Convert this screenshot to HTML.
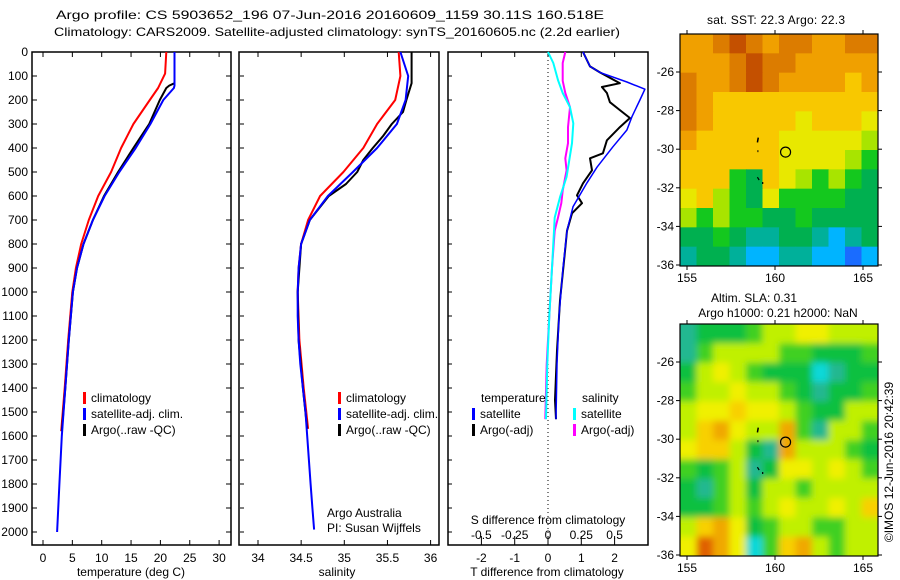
<!DOCTYPE html>
<html><head><meta charset="utf-8">
<style>
html,body{margin:0;padding:0;background:#fff;}
svg{display:block;font-family:"Liberation Sans",sans-serif;}
text{font-size:12px;fill:#000;}
</style></head>
<body>
<svg id="c" width="900" height="580" viewBox="0 0 900 580" xmlns="http://www.w3.org/2000/svg"></svg>
<script>
// ---------- data ----------
const depthTicks=[0,100,200,300,400,500,600,700,800,900,1000,1100,1200,1300,1400,1500,1600,1700,1800,1900,2000];
const tTicks=[0,5,10,15,20,25,30];
const sTicks=[34,34.5,35,35.5,36];
const dtTicks=[-2,-1,0,1,2];
const dsTicks=[-0.5,-0.25,0,0.25,0.5];
const dsTickLabels=["-0.5","-0.25","0","0.25","0.5"];
// temperature
const climTd=[0,90,150,200,300,400,500,600,700,800,900,1000,1200,1400,1580];
const climT =[21.0,20.8,19.6,18.2,15.4,13.3,11.6,9.4,7.8,6.5,5.6,5.0,4.3,3.7,3.1];
const satTd=[0,140,150,200,300,400,500,600,700,800,900,1000,1200,1400,1600,1800,2000];
const satT =[22.4,22.4,22.3,20.5,18.3,15.8,13.0,10.5,8.5,6.9,5.8,5.1,4.4,3.8,3.2,2.8,2.4];
const argoTd=[0,130,140,150,200,300,400,500,600,700,800,900,1000,1200,1400,1580];
const argoT =[22.4,22.4,21.5,21.0,19.9,18.1,15.4,12.8,10.4,8.5,6.9,5.8,5.1,4.4,3.8,3.2];
// salinity
const climSd=[0,100,200,300,400,500,600,700,800,900,1000,1200,1400,1570];
const climS =[35.63,35.65,35.59,35.38,35.22,34.99,34.72,34.58,34.50,34.47,34.46,34.48,34.53,34.58];
const satSd=[0,100,200,300,400,500,600,700,800,900,1000,1100,1200,1300,1400,1500,1600,1700,1800,1900,1990];
const satS =[35.65,35.74,35.71,35.61,35.38,35.10,34.81,34.60,34.50,34.47,34.46,34.46,34.47,34.49,34.52,34.55,34.57,34.59,34.61,34.63,34.65];
const argoSd=[0,130,200,250,300,350,400,450,500,550,600,700,800,1000,1200,1400,1570];
const argoS =[35.78,35.78,35.72,35.68,35.55,35.45,35.33,35.22,35.15,35.02,34.82,34.60,34.50,34.46,34.47,34.52,34.57];
// differences
const dTsatD=[0,60,85,125,155,200,270,325,395,480,545,645,745,900,1100,1300,1530];
const dTsat =[1.05,1.26,1.56,2.37,2.91,2.76,2.52,2.37,1.95,1.47,1.17,0.75,0.57,0.45,0.33,0.27,0.24];
const dTargoD=[0,60,85,130,146,171,209,242,275,313,368,422,443,493,547,597,630,672,745,830,1035,1245,1450,1530];
const dTargo =[1.05,1.26,1.56,2.16,1.62,1.77,1.86,2.16,2.46,2.16,1.77,1.65,1.26,1.32,1.05,0.87,1.02,0.72,0.57,0.51,0.36,0.27,0.21,0.24];
const dSsatD=[0,46,117,171,230,297,380,520,605,690,745,900,1100,1300,1530];
const dSsat =[0.0,0.04,0.075,0.11,0.165,0.19,0.18,0.14,0.09,0.05,0.045,0.03,0.01,-0.005,-0.015];
const dSargoD=[0,46,120,171,230,313,380,443,493,577,630,690,745,900,1100,1300,1530];
const dSargo =[0.13,0.11,0.11,0.13,0.165,0.15,0.15,0.13,0.14,0.11,0.10,0.075,0.05,0.03,0.01,-0.01,-0.02];
// maps (colour level per cell, rows north->south)
const sstGrid=[
[8,8,9,10,9,8,9,9,8,8,9,9],[8,8,8,9,10,9,9,8,8,8,8,8],[9,8,8,9,10,9,8,8,8,8,7,8],
[9,8,7,7,7,7,7,7,7,7,7,7],[9,8,7,7,7,7,7,6,7,7,7,6],[8,7,7,7,7,7,6,6,6,6,6,5],
[7,7,7,7,7,7,6,6,6,6,5,4],[7,7,7,4,3,7,6,5,4,5,4,3],[6,7,5,4,3,6,4,4,4,4,3,3],
[5,4,5,4,4,3,3,4,3,3,3,3],[3,3,4,3,2,2,3,3,2,1,2,3],[2,3,3,2,1,1,2,2,1,1,0,1]];
const slaGrid=[
[2,3,3,3,4,5,5,6,6,5,5,5],[2,4,5,5,5,5,4,4,3,3,3,4],[3,5,6,5,4,3,3,3,1,2,3,3],
[4,5,5,6,5,5,4,3,2,3,3,4],[5,6,6,7,6,6,5,4,3,3,5,5],[5,7,8,6,5,5,8,4,2,5,5,4],
[6,7,7,5,3,2,8,5,5,5,4,3],[4,3,4,5,2,3,6,6,5,6,5,4],[3,2,4,5,3,5,5,4,5,5,5,5],
[3,3,4,5,4,5,6,5,5,6,5,7],[5,7,8,6,3,4,5,5,4,4,5,5],[6,9,8,6,1,4,7,8,5,4,5,5]];
const lonTicks=[155,160,165];
const latTicks=[-26,-28,-30,-32,-34,-36];
const argoLon=160.6, argoLat=-30.15;
const sstColors=["#1a6cff","#00b4ff","#00b09a","#00b050","#14c81e","#a8e400","#e8e800","#f8c800","#f0a000","#dc7c00","#c45000"];
const slaColors=["#1a6cff","#10d8d8","#20b890","#10c040","#40d020","#c0f000","#f0f000","#f8d000","#f0a800","#e06000"];

// ---------- helpers ----------
const svg=document.getElementById('c');
const NS="http://www.w3.org/2000/svg";
function mk(tag,attrs,parent){const e=document.createElementNS(NS,tag);for(const k in attrs)e.setAttribute(k,attrs[k]);(parent||svg).appendChild(e);return e;}
function txt(x,y,s,anchor,parent,size){const t=mk('text',{x:x,y:y,'text-anchor':anchor||'start'},parent);if(size)t.setAttribute('font-size',size);t.textContent=s;return t;}
const Y0=52, YS=0.24, PB=545;
const yD=d=>Y0+d*YS;
const xT=v=>43+v*5.87;
const xS=v=>258+(v-34)*86.3;
const xDT=v=>548+v*33.3;
const xDS=v=>548+v*133.2;
function line(ds,vs,fx,color,w,name){
  let p='';for(let i=0;i<ds.length;i++){p+=(i?'L':'M')+fx(vs[i]).toFixed(1)+','+yD(ds[i]).toFixed(1);}
  const e=mk('path',{d:p,fill:'none',stroke:color,'stroke-width':w,'stroke-linejoin':'round'});
  
  
}
function frame(x0,x1,name){
  const r=mk('rect',{x:x0,y:Y0,width:x1-x0,height:PB-Y0,fill:'none',stroke:'#000','stroke-width':1.5});
  
  
}

// titles
let t1=txt(56,19,"Argo profile: CS 5903652_196 07-Jun-2016 20160609_1159 30.11S 160.518E","start",null,15);
t1.setAttribute('textLength','548');
t1.setAttribute('lengthAdjust','spacingAndGlyphs');


let t2=txt(54,36,"Climatology: CARS2009. Satellite-adjusted climatology: synTS_20160605.nc (2.2d earlier)","start",null,15);
t2.setAttribute('textLength','566');
t2.setAttribute('lengthAdjust','spacingAndGlyphs');



// ----- panel 1 temperature -----
frame(32,231,'temperature-panel');
depthTicks.forEach(d=>{
  mk('line',{x1:32,x2:37,y1:yD(d),y2:yD(d),stroke:'#000'});
  mk('line',{x1:226,x2:231,y1:yD(d),y2:yD(d),stroke:'#000'});
  mk('line',{x1:240,x2:244,y1:yD(d),y2:yD(d),stroke:'#000'});
  mk('line',{x1:448,x2:452,y1:yD(d),y2:yD(d),stroke:'#000'});
  const l=txt(28,yD(d)+4,String(d),'end',null,13);
  
  
});
tTicks.forEach(v=>{
  mk('line',{x1:xT(v),x2:xT(v),y1:PB,y2:PB-5,stroke:'#000'});
  mk('line',{x1:xT(v),x2:xT(v),y1:Y0,y2:Y0+5,stroke:'#000'});
  const l=txt(xT(v),562,String(v),'middle',null,13);
  
  
});
let xl1=txt(131,576,"temperature (deg C)","middle",null,13);


line(climTd,climT,xT,'#ff0000',2,'temperature-climatology-line');
line(argoTd,argoT,xT,'#000000',2,'temperature-argo-line');
line(satTd,satT,xT,'#0000ff',2,'temperature-satellite-line');

function legend(x,y,items,name){
  const g=mk('g',{});
  
  
  items.forEach((it,i)=>{
    mk('rect',{x:x,y:y+i*16-10,width:3,height:12,fill:it[0]},g);
    txt(x+8,y+i*16,it[1],'start',g,13);
  });
}
legend(83,402,[['#ff0000','climatology'],['#0000ff','satellite-adj. clim.'],['#000','Argo(..raw -QC)']],'temperature-legend');

// ----- panel 2 salinity -----
frame(239,439,'salinity-panel');
sTicks.forEach(v=>{
  mk('line',{x1:xS(v),x2:xS(v),y1:PB,y2:PB-5,stroke:'#000'});
  mk('line',{x1:xS(v),x2:xS(v),y1:Y0,y2:Y0+5,stroke:'#000'});
  const l=txt(xS(v),562,String(v),'middle',null,13);
  
  
});
let xl2=txt(337,576,"salinity","middle",null,13);


line(climSd,climS,xS,'#ff0000',2,'salinity-climatology-line');
line(argoSd,argoS,xS,'#000000',2,'salinity-argo-line');
line(satSd,satS,xS,'#0000ff',2,'salinity-satellite-line');
legend(338,402,[['#ff0000','climatology'],['#0000ff','satellite-adj. clim.'],['#000','Argo(..raw -QC)']],'salinity-legend');
let cr1=txt(327,517,"Argo Australia","start",null,13);


let cr2=txt(327,532,"PI: Susan Wijffels","start",null,13);



// ----- panel 3 differences -----
frame(448,648,'difference-panel');
mk('line',{x1:xDT(0),x2:xDT(0),y1:Y0,y2:PB,stroke:'#000','stroke-dasharray':'1,3'});
dtTicks.forEach(v=>{
  mk('line',{x1:xDT(v),x2:xDT(v),y1:PB,y2:PB-5,stroke:'#000'});
  mk('line',{x1:xDT(v),x2:xDT(v),y1:Y0,y2:Y0+5,stroke:'#000'});
  const l=txt(xDT(v),562,String(v),'middle',null,13);
  
  
});
dsTicks.forEach((v,i)=>{
  mk('line',{x1:xDS(v),x2:xDS(v),y1:536,y2:540,stroke:'#000'});
  const l=txt(xDS(v),539,dsTickLabels[i],'middle',null,13);
  
  
});
let xl3=txt(547,576,"T difference from climatology","middle",null,13);


let xl4=txt(548,524,"S difference from climatology","middle",null,13);


line(dSargoD,dSargo,xDS,'#ff00ff',2,'salinity-argo-difference-line');
line(dSsatD,dSsat,xDS,'#00ffff',2,'salinity-satellite-difference-line');
line(dTargoD,dTargo,xDT,'#000000',2,'temperature-argo-difference-line');
line(dTsatD,dTsat,xDT,'#0000ff',1.5,'temperature-satellite-difference-line');
let lh1=txt(481,402,"temperature","start",null,13);


let lh2=txt(582,402,"salinity","start",null,13);


legend(472,418,[['#0000ff','satellite'],['#000','Argo(-adj)']],'temperature-difference-legend');
legend(573,418,[['#00ffff','satellite'],['#ff00ff','Argo(-adj)']],'salinity-difference-legend');

// ----- maps -----
function map(top,grid,colors,blur,name,lat0y){
  const L=680,R=878,B=top+232;
  const xL=v=>687+(v-155)*17.6;
  const yL=v=>lat0y+(-26-v)*19.3;
  const g=mk('g',{});
  
  
  const cid='clip'+top;
  const cp=mk('clipPath',{id:cid},g);mk('rect',{x:L,y:top,width:R-L,height:B-top},cp);
  const inner=mk('g',{'clip-path':'url(#'+cid+')'},g);
  const target=blur?mk('g',{filter:'url(#bl)'},inner):inner;
  const rows=grid.length, cols=grid[0].length;
  const cw=(R-L)/cols, ch=(B-top)/rows;
  grid.forEach((row,r)=>row.forEach((v,c)=>{
    const cell=mk('rect',{x:L+c*cw-(blur?cw*0.5:0)*(c==0),y:top+r*ch-(blur?ch*0.5:0)*(r==0),width:cw+0.6+(blur&&(c==0||c==cols-1)?cw*0.5:0),height:ch+0.6+(blur&&(r==0||r==rows-1)?ch*0.5:0),fill:colors[v]},target);
    
    
  }));
  mk('path',{d:`M${xL(159.05)},${yL(-29.4)}L${xL(159.0)},${yL(-29.65)}`,stroke:'#000','stroke-width':1.5},g);
  mk('rect',{x:xL(159.0),y:yL(-30.05),width:1,height:2,fill:'#000'},g);
  mk('path',{d:`M${xL(159.0)},${yL(-31.45)}L${xL(159.1)},${yL(-31.6)}M${xL(159.3)},${yL(-31.7)}L${xL(159.3)},${yL(-31.8)}`,stroke:'#000','stroke-width':1.2},g);
  const ci=mk('circle',{cx:xL(argoLon),cy:yL(argoLat),r:5,fill:'none',stroke:'#000','stroke-width':1.2},g);
  
  
  mk('rect',{x:L,y:top,width:R-L,height:B-top,fill:'none',stroke:'#000','stroke-width':1.2},g);
  lonTicks.forEach(v=>{
    mk('line',{x1:xL(v),x2:xL(v),y1:B,y2:B+4,stroke:'#000'},g);
    mk('line',{x1:xL(v),x2:xL(v),y1:top,y2:top-4,stroke:'#000'},g);
    const l=txt(xL(v),B+16,String(v),'middle',g,13);
    
    
  });
  latTicks.forEach(v=>{
    mk('line',{x1:L,x2:L-4,y1:yL(v),y2:yL(v),stroke:'#000'},g);
    mk('line',{x1:R,x2:R+4,y1:yL(v),y2:yL(v),stroke:'#000'},g);
    const l=txt(L-6,yL(v)+4,String(v),'end',g,13);
    
    
  });
}
const defs=mk('defs',{});
const f=mk('filter',{id:'bl',x:'-10%',y:'-10%',width:'120%',height:'120%'},defs);
mk('feGaussianBlur',{stdDeviation:3.5},f);
map(34,sstGrid,sstColors,false,'sst-map',72);
map(324,slaGrid,slaColors,true,'sla-map',362);
let m1=txt(776,24,"sat. SST: 22.3 Argo: 22.3","middle",null,13);
m1.setAttribute('textLength','138');


let m2=txt(754,302,"Altim. SLA: 0.31","middle",null,13);


let m3=txt(778,317,"Argo h1000: 0.21 h2000: NaN","middle",null,13);


let stamp=txt(0,0,"©IMOS 12-Jun-2016 20:42:39","middle",null,13);
stamp.setAttribute('transform','translate(893,462) rotate(-90)');


</script>
</body></html>
